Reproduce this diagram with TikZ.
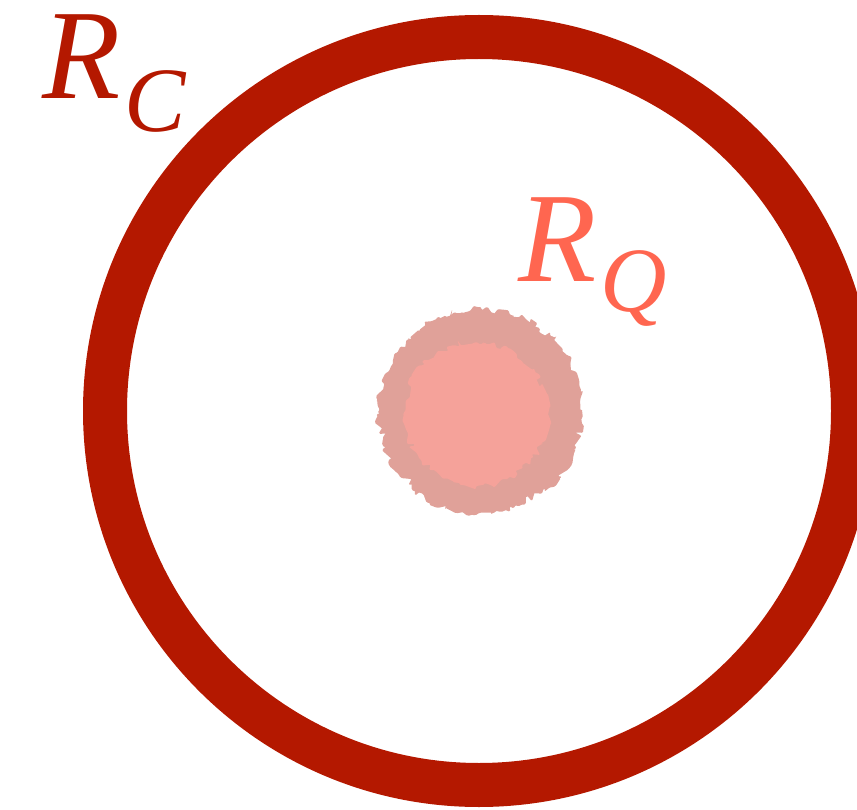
\documentclass[tikz,border=0pt]{standalone}
\usepackage{fontspec}
\setmainfont{Liberation Serif}[ItalicFont={Liberation Serif Italic}]
\usetikzlibrary{decorations.pathmorphing}
\definecolor{ringred}{RGB}{180,24,0}
\definecolor{qcol}{RGB}{255,102,80}
\definecolor{blobout}{RGB}{224,161,153}
\definecolor{blobin}{RGB}{245,162,154}
\tikzset{
  lbl/.style={inner sep=0pt, anchor=base west, font=\fontsize{128}{128}\selectfont\itshape},
  sublbl/.style={inner sep=0pt, anchor=base west, font=\fontsize{92}{92}\selectfont\itshape},
  rough/.style={decorate, decoration={random steps, segment length=4pt, amplitude=4pt}, rounded corners=1pt},
  rougher/.style={decorate, decoration={random steps, segment length=7pt, amplitude=7pt}, rounded corners=1.5pt}
}
\begin{document}
\begin{tikzpicture}[x=1pt,y=-1pt]
\pgfmathsetseed{11}
\useasboundingbox (0,0) rectangle (857,810);
% ring
\begin{scope}
\clip (0,0) rectangle (857,810);
\draw[ringred, line width=44pt] (479,411) circle[radius=374];
\end{scope}
% blob
\coordinate (bc) at (480,412);
\fill[blobout, rougher] (bc) circle[radius=100];
\fill[blobout, rough] (481,410) circle[radius=101];
\fill[blobout, rougher] (479,414) circle[radius=97];
\fill[blobin, rough] (476,414) circle[radius=72];
\fill[blobin, rougher] (476,413) circle[radius=68];
% labels
\node[lbl, text=ringred] (rc) at (42,99) {R};
\node[sublbl, text=ringred] (rcs) at (124,132) {C};
\node[lbl, text=qcol] (rq) at (518,282) {R};
\node[sublbl, text=qcol] (rqs) at (600,312) {Q};
\end{tikzpicture}
\end{document}
